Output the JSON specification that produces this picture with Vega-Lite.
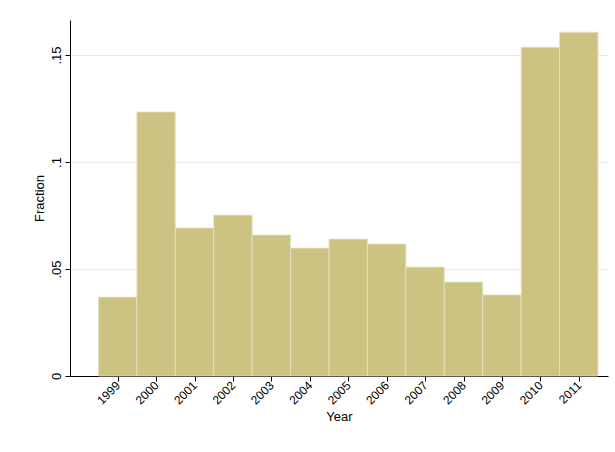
{
"$schema":"https://vega.github.io/schema/vega-lite/v6.json",
"autosize":{"type":"fit","contains":"padding"},
"width":615,"height":452,
"padding":{"left":33,"right":7,"top":20,"bottom":28},
"background":"white",
"data":{"values":[
{"year":1999,"f":0.0369},{"year":2000,"f":0.1234},{"year":2001,"f":0.0692},{"year":2002,"f":0.0752},{"year":2003,"f":0.0659},{"year":2004,"f":0.0598},{"year":2005,"f":0.064},{"year":2006,"f":0.0617},{"year":2007,"f":0.0509},{"year":2008,"f":0.0439},{"year":2009,"f":0.0379},{"year":2010,"f":0.1537},{"year":2011,"f":0.1607}]},
"transform":[{"calculate":"datum.year-0.5","as":"x0"},{"calculate":"datum.year+0.5","as":"x1"}],
"mark":{"type":"rect","fill":"#ccc383","stroke":"#e8e3c0","strokeWidth":0.8},
"encoding":{
"x":{"field":"x0","type":"quantitative","scale":{"domain":[1997.76,2011.76],"nice":false,"zero":false},
"axis":{"title":"Year","values":[1999,2000,2001,2002,2003,2004,2005,2006,2007,2008,2009,2010,2011],"labelAngle":-45,"labelAlign":"right","labelBaseline":"middle","format":"d","grid":false,"labelFontSize":12,"titleFontSize":13,"titleFontWeight":"normal","tickColor":"#000","domainColor":"#000","labelColor":"#000","titleColor":"#000"}},
"x2":{"field":"x1"},
"y":{"field":"f","type":"quantitative","scale":{"domain":[0,0.1664],"nice":false},
"axis":{"title":"Fraction","values":[0,0.05,0.1,0.15],"labelExpr":"replace(toString(datum.value),/^0\\./,'.')","labelAngle":-90,"labelAlign":"center","labelBaseline":"bottom","grid":true,"gridColor":"#eaeaea","labelFontSize":13,"titleFontSize":13,"titleFontWeight":"normal","tickColor":"#000","domainColor":"#000","labelColor":"#000","titleColor":"#000"}},
"y2":{"datum":0}
},
"config":{"view":{"stroke":null},"font":"Liberation Sans"}
}
